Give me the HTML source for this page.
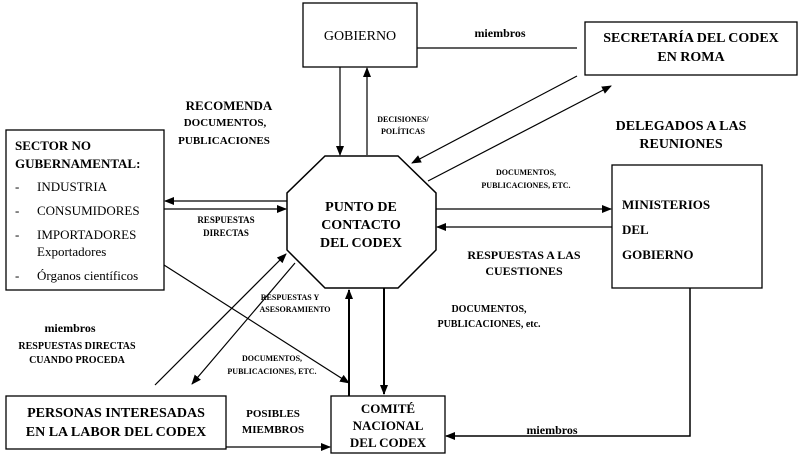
<!DOCTYPE html>
<html><head><meta charset="utf-8"><style>
html,body{margin:0;padding:0;background:#fff}
svg{display:block}
text{font-family:"Liberation Serif",serif;fill:#000}
.b{font-weight:bold}
</style></head><body>
<svg width="800" height="459" viewBox="0 0 800 459" xmlns="http://www.w3.org/2000/svg">
<defs>
<marker id="a" markerWidth="10" markerHeight="8" refX="9" refY="4" orient="auto" markerUnits="userSpaceOnUse">
<path d="M0,0 L10,4 L0,8 Z" fill="#000"/></marker>
</defs>
<g fill="none" stroke="#000" stroke-width="1.3">
<rect x="303" y="3" width="114" height="64"/>
<rect x="585" y="22" width="212" height="53"/>
<rect x="6" y="130" width="158" height="160"/>
<rect x="612" y="165" width="150" height="123"/>
<rect x="331" y="396" width="114" height="57"/>
<rect x="6" y="396" width="220" height="53"/>
<polygon points="325,156 398,156 436,193 436,250 398,288 325,288 287,250 287,193" stroke-width="1.5"/>
</g>
<g stroke="#000" stroke-width="1.2" fill="none">
<line x1="340" y1="67" x2="340" y2="155" marker-end="url(#a)"/>
<line x1="367" y1="155" x2="367" y2="68" marker-end="url(#a)"/>
<line x1="417" y1="48" x2="577" y2="48"/>
<line x1="577" y1="76" x2="412" y2="163" marker-end="url(#a)"/>
<line x1="428" y1="181" x2="611" y2="86" marker-end="url(#a)"/>
<line x1="287" y1="201" x2="165" y2="201" marker-end="url(#a)"/>
<line x1="164" y1="209" x2="286" y2="209" marker-end="url(#a)"/>
<line x1="436" y1="209" x2="611" y2="209" marker-end="url(#a)"/>
<line x1="612" y1="227" x2="437" y2="227" marker-end="url(#a)"/>
<line x1="164" y1="265" x2="349" y2="383" marker-end="url(#a)"/>
<line x1="155" y1="385" x2="286" y2="254" marker-end="url(#a)"/>
<line x1="295" y1="263" x2="192" y2="384" marker-end="url(#a)"/>
<line x1="349" y1="396" x2="349" y2="290" marker-end="url(#a)" stroke-width="2"/>
<line x1="384" y1="288" x2="384" y2="394" marker-end="url(#a)" stroke-width="2"/>
<polyline points="690,288 690,436 446,436" marker-end="url(#a)" stroke-width="1.5"/>
<line x1="226" y1="447" x2="330" y2="447" marker-end="url(#a)"/>
</g>
<text x="360" y="40" font-size="14" text-anchor="middle">GOBIERNO</text>
<text x="500" y="37" font-size="12" class="b" text-anchor="middle">miembros</text>
<text x="691" y="42" font-size="14" class="b" text-anchor="middle">SECRETARÍA DEL CODEX</text>
<text x="691" y="61" font-size="14" class="b" text-anchor="middle">EN ROMA</text>
<text x="229" y="110" font-size="13" class="b" text-anchor="middle">RECOMENDA</text>
<text x="225" y="126" font-size="11" class="b" text-anchor="middle">DOCUMENTOS,</text>
<text x="224" y="144" font-size="11" class="b" text-anchor="middle">PUBLICACIONES</text>
<text x="403" y="122" font-size="8" class="b" text-anchor="middle">DECISIONES/</text>
<text x="403" y="134" font-size="8" class="b" text-anchor="middle">POLÍTICAS</text>
<text x="681" y="130" font-size="14" class="b" text-anchor="middle">DELEGADOS A LAS</text>
<text x="681" y="148" font-size="14" class="b" text-anchor="middle">REUNIONES</text>
<text x="15" y="150" font-size="13" class="b">SECTOR NO</text>
<text x="15" y="168" font-size="13" class="b">GUBERNAMENTAL:</text>
<g font-size="13">
<text x="15" y="191">-</text><text x="37" y="191">INDUSTRIA</text>
<text x="15" y="215">-</text><text x="37" y="215">CONSUMIDORES</text>
<text x="15" y="239">-</text><text x="37" y="239">IMPORTADORES</text>
<text x="37" y="256">Exportadores</text>
<text x="15" y="280">-</text><text x="37" y="280">Órganos científicos</text>
</g>
<text x="226" y="223" font-size="9" class="b" text-anchor="middle">RESPUESTAS</text>
<text x="226" y="236" font-size="9" class="b" text-anchor="middle">DIRECTAS</text>
<text x="361" y="211" font-size="14" class="b" text-anchor="middle">PUNTO DE</text>
<text x="361" y="229" font-size="14" class="b" text-anchor="middle">CONTACTO</text>
<text x="361" y="247" font-size="14" class="b" text-anchor="middle">DEL CODEX</text>
<text x="526" y="175" font-size="8" class="b" text-anchor="middle">DOCUMENTOS,</text>
<text x="526" y="188" font-size="8" class="b" text-anchor="middle">PUBLICACIONES, ETC.</text>
<text x="622" y="209" font-size="13" class="b">MINISTERIOS</text>
<text x="622" y="234" font-size="13" class="b">DEL</text>
<text x="622" y="259" font-size="13" class="b">GOBIERNO</text>
<text x="524" y="259" font-size="12" class="b" text-anchor="middle">RESPUESTAS A LAS</text>
<text x="524" y="275" font-size="12" class="b" text-anchor="middle">CUESTIONES</text>
<text x="489" y="312" font-size="10" class="b" text-anchor="middle">DOCUMENTOS,</text>
<text x="489" y="327" font-size="10" class="b" text-anchor="middle">PUBLICACIONES, etc.</text>
<text x="290" y="300" font-size="8" class="b" text-anchor="middle">RESPUESTAS Y</text>
<text x="295" y="312" font-size="8" class="b" text-anchor="middle">ASESORAMIENTO</text>
<text x="70" y="332" font-size="12" class="b" text-anchor="middle">miembros</text>
<text x="77" y="349" font-size="10" class="b" text-anchor="middle">RESPUESTAS DIRECTAS</text>
<text x="77" y="363" font-size="10" class="b" text-anchor="middle">CUANDO PROCEDA</text>
<text x="272" y="361" font-size="8" class="b" text-anchor="middle">DOCUMENTOS,</text>
<text x="272" y="374" font-size="8" class="b" text-anchor="middle">PUBLICACIONES, ETC.</text>
<text x="116" y="417" font-size="14" class="b" text-anchor="middle">PERSONAS INTERESADAS</text>
<text x="116" y="436" font-size="14" class="b" text-anchor="middle">EN LA LABOR DEL CODEX</text>
<text x="273" y="417" font-size="11" class="b" text-anchor="middle">POSIBLES</text>
<text x="273" y="433" font-size="11" class="b" text-anchor="middle">MIEMBROS</text>
<text x="388" y="413" font-size="13" class="b" text-anchor="middle">COMITÉ</text>
<text x="388" y="430" font-size="13" class="b" text-anchor="middle">NACIONAL</text>
<text x="388" y="447" font-size="13" class="b" text-anchor="middle">DEL CODEX</text>
<text x="552" y="434" font-size="12" class="b" text-anchor="middle">miembros</text>
</svg>
</body></html>
